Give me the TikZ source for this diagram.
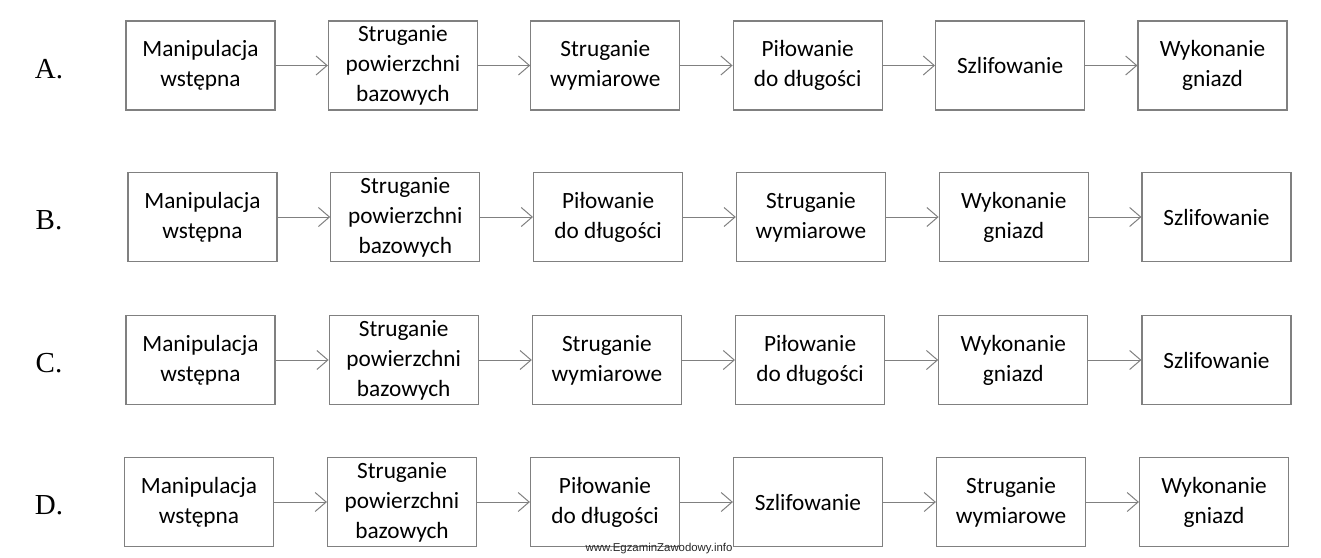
\documentclass[tikz,border=0pt]{standalone}
\usepackage{fontspec}
\setmainfont{Liberation Serif}
\newfontfamily\boxfont{Carlito}
\newfontfamily\markfont{Liberation Sans}
\usetikzlibrary{arrows.meta}

\begin{document}
\begin{tikzpicture}[x=1pt, y=-1pt,
          stage/.style={draw=black!50, line width=1.2pt, minimum width=149pt,
            minimum height=89pt, inner sep=0pt, align=center,
            font=\boxfont\fontsize{23.3}{30}\selectfont},
          flow/.style={draw=black!50, line width=1pt,
            -{Straight Barb[length=11pt,width=19pt]}},
          letter/.style={font=\fontsize{29}{30}\selectfont}]

  \useasboundingbox (0,0) rectangle (1321,557);

  % row A
  \node[letter] (la) at (49,69) {A.};
  \foreach \txt [count=\i] in {Manipulacja\\wstępna, Struganie\\powierzchni\\bazowych,
      Struganie\\wymiarowe, Piłowanie\\do długości, Szlifowanie, Wykonanie\\gniazd}
    \node[stage] (a\i) at ({200.5+202.4*(\i-1)},65.5) {\txt};
  \foreach \i [count=\j from 2] in {1,...,5}
    \draw[flow] (a\i) -- (a\j);

  % row B
  \node[letter] (lb) at (49,220.5) {B.};
  \foreach \txt [count=\i] in {Manipulacja\\wstępna, Struganie\\powierzchni\\bazowych,
      Piłowanie\\do długości, Struganie\\wymiarowe, Wykonanie\\gniazd, Szlifowanie}
    \node[stage] (b\i) at ({202.5+202.8*(\i-1)},217) {\txt};
  \foreach \i [count=\j from 2] in {1,...,5}
    \draw[flow] (b\i) -- (b\j);

  % row C
  \node[letter] (lc) at (49,363.5) {C.};
  \foreach \txt [count=\i] in {Manipulacja\\wstępna, Struganie\\powierzchni\\bazowych,
      Struganie\\wymiarowe, Piłowanie\\do długości, Wykonanie\\gniazd, Szlifowanie}
    \node[stage] (c\i) at ({200.5+203.2*(\i-1)},360) {\txt};
  \foreach \i [count=\j from 2] in {1,...,5}
    \draw[flow] (c\i) -- (c\j);

  % row D
  \node[letter] (ld) at (49,505.5) {D.};
  \foreach \txt [count=\i] in {Manipulacja\\wstępna, Struganie\\powierzchni\\bazowych,
      Piłowanie\\do długości, Szlifowanie, Struganie\\wymiarowe, Wykonanie\\gniazd}
    \node[stage] (d\i) at ({199+203*(\i-1)},502) {\txt};
  \foreach \i [count=\j from 2] in {1,...,5}
    \draw[flow] (d\i) -- (d\j);

  \node[font=\markfont\fontsize{11.4}{12}\selectfont, text=black!85] (mark)
    at (659,549) {www.EgzaminZawodowy.info};

\end{tikzpicture}
\end{document}
